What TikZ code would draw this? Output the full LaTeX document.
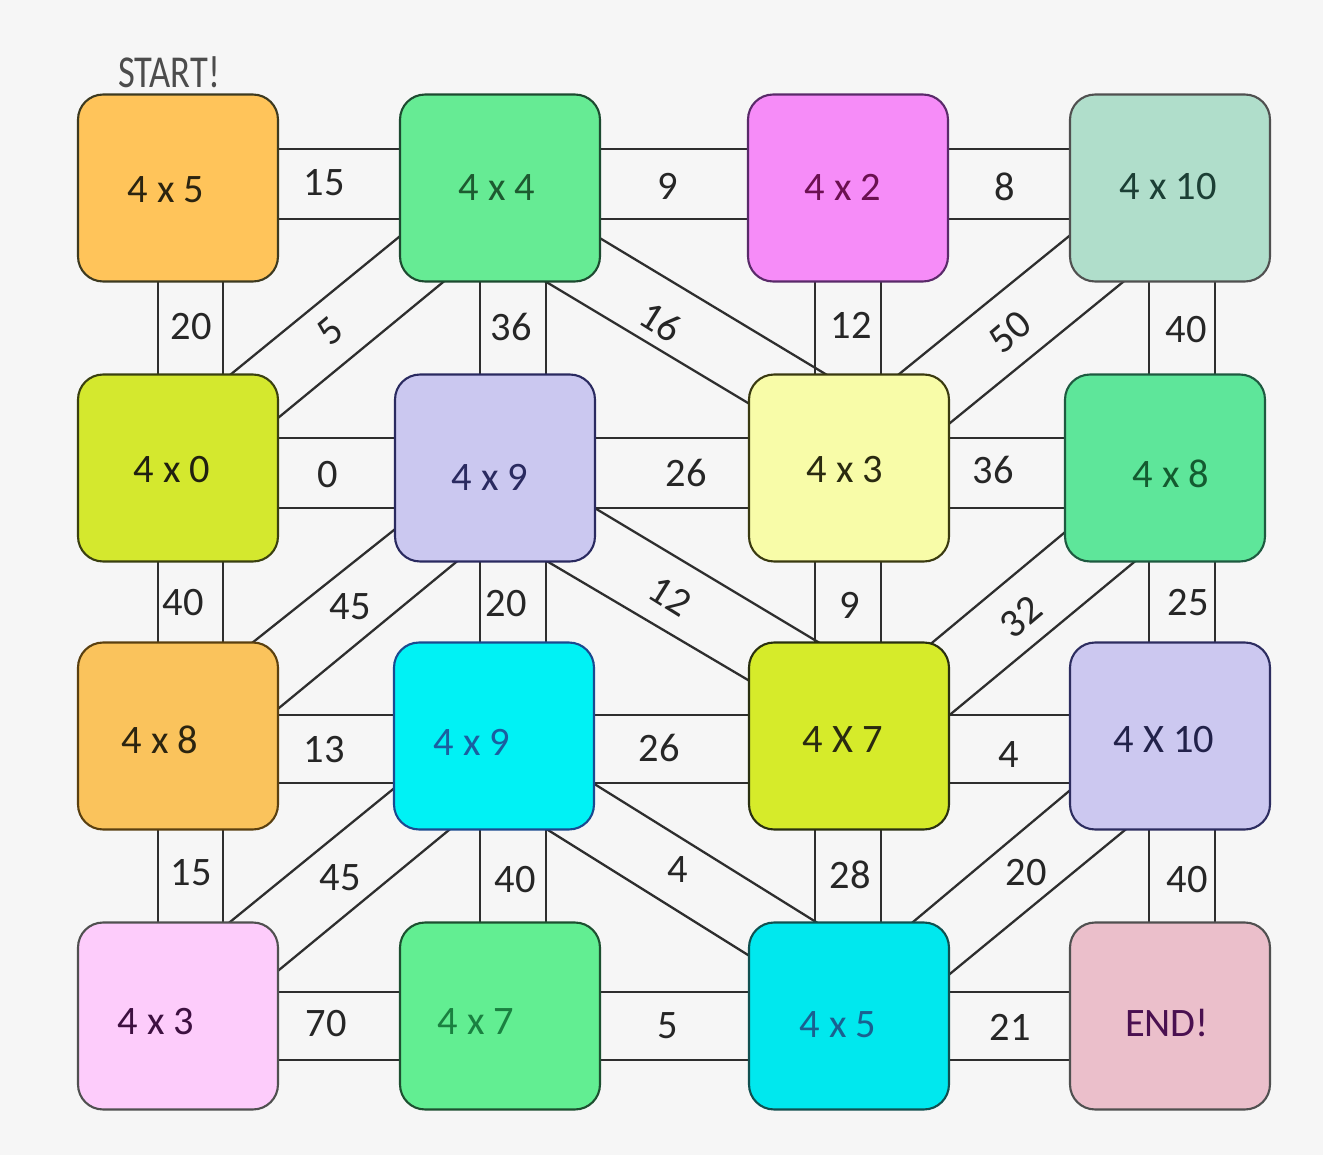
\documentclass[tikz,border=0pt]{standalone}
\usepackage{fontspec}
\setmainfont{Carlito}
\usetikzlibrary{calc}
\pgfdeclarelayer{back}
\pgfdeclarelayer{bg}
\pgfsetlayers{back,bg,main}
\definecolor{bgcol}{HTML}{F6F6F6}
\definecolor{linecol}{HTML}{2E2E2E}
\definecolor{fA1}{HTML}{FFC45A}\definecolor{dA1}{HTML}{3D3A20}\definecolor{tA1}{HTML}{2B2410}
\definecolor{fB1}{HTML}{66EB94}\definecolor{dB1}{HTML}{1D4A30}\definecolor{tB1}{HTML}{1D5A30}
\definecolor{fC1}{HTML}{F68CF8}\definecolor{dC1}{HTML}{5A2A6A}\definecolor{tC1}{HTML}{6A1050}
\definecolor{fD1}{HTML}{B0DECB}\definecolor{dD1}{HTML}{505050}\definecolor{tD1}{HTML}{1C3F35}
\definecolor{fA2}{HTML}{D4E82E}\definecolor{dA2}{HTML}{3A4010}\definecolor{tA2}{HTML}{202010}
\definecolor{fB2}{HTML}{CBC8F0}\definecolor{dB2}{HTML}{2A2A60}\definecolor{tB2}{HTML}{2A2A60}
\definecolor{fC2}{HTML}{F8FCA8}\definecolor{dC2}{HTML}{3A3A10}\definecolor{tC2}{HTML}{2A2A10}
\definecolor{fD2}{HTML}{5EE69A}\definecolor{dD2}{HTML}{1E5A40}\definecolor{tD2}{HTML}{145A30}
\definecolor{fA3}{HTML}{FAC35C}\definecolor{dA3}{HTML}{5A4010}\definecolor{tA3}{HTML}{2B2410}
\definecolor{fB3}{HTML}{00F2F5}\definecolor{dB3}{HTML}{1A4A90}\definecolor{tB3}{HTML}{1A5FA0}
\definecolor{fC3}{HTML}{D6EB2A}\definecolor{dC3}{HTML}{2A3010}\definecolor{tC3}{HTML}{2A2A10}
\definecolor{fD3}{HTML}{CCC8F0}\definecolor{dD3}{HTML}{2D2D60}\definecolor{tD3}{HTML}{22224A}
\definecolor{fA4}{HTML}{FDCCFB}\definecolor{dA4}{HTML}{505050}\definecolor{tA4}{HTML}{3D1040}
\definecolor{fB4}{HTML}{62EE92}\definecolor{dB4}{HTML}{1D5030}\definecolor{tB4}{HTML}{1A8040}
\definecolor{fC4}{HTML}{00E8EE}\definecolor{dC4}{HTML}{105050}\definecolor{tC4}{HTML}{1A6090}
\definecolor{fD4}{HTML}{EBBFCB}\definecolor{dD4}{HTML}{505050}\definecolor{tD4}{HTML}{4A1050}
\tikzset{
  box/.style={rounded corners=0.5cm, minimum width=4cm, minimum height=3.74cm,
    line width=1.2pt, inner sep=0pt},
  lbl/.style={font=\fontsize{23}{23}\selectfont, inner sep=0pt, text=black!85},
  band/.style={line width=1.3pt, draw=linecol, shorten <=-0.12cm, shorten >=-0.12cm},
}
\begin{document}
\begin{tikzpicture}[x=0.02cm,y=-0.02cm]
\useasboundingbox (0,0) rectangle (1323,1155);
\begin{pgfonlayer}{back}
\fill[bgcol] (0,0) rectangle (1323,1155);
\end{pgfonlayer}

% boxes
\node[box, fill=fA1, draw=dA1, label={[lbl, text=tA1, xshift=-0.24cm, yshift=-0.04cm]center:4 x 5}] (A1) at (178,188) {};
\node[box, fill=fB1, draw=dB1, label={[lbl, text=tB1, xshift=-0.06cm]center:4 x 4}] (B1) at (500,188) {};
\node[box, fill=fC1, draw=dC1, label={[lbl, text=tC1, xshift=-0.10cm, yshift=0.02cm]center:4 x 2}] (C1) at (848,188) {};
\node[box, fill=fD1, draw=dD1, label={[lbl, text=tD1, xshift=-0.04cm, yshift=0.02cm]center:4 x 10}] (D1) at (1170,188) {};

\node[box, fill=fA2, draw=dA2, label={[lbl, text=tA2, xshift=-0.12cm, yshift=-0.04cm]center:4 x 0}] (A2) at (178,468) {};
\node[box, fill=fB2, draw=dB2, label={[lbl, text=tB2, xshift=-0.10cm, yshift=-0.18cm]center:4 x 9}] (B2) at (495,468) {};
\node[box, fill=fC2, draw=dC2, label={[lbl, text=tC2, xshift=-0.08cm, yshift=-0.04cm]center:4 x 3}] (C2) at (849,468) {};
\node[box, fill=fD2, draw=dD2, label={[lbl, text=tD2, xshift=0.12cm, yshift=-0.12cm]center:4 x 8}] (D2) at (1165,468) {};

\node[box, fill=fA3, draw=dA3, label={[lbl, text=tA3, xshift=-0.36cm, yshift=-0.08cm]center:4 x 8}] (A3) at (178,736) {};
\node[box, fill=fB3, draw=dB3, label={[lbl, text=tB3, xshift=-0.44cm, yshift=-0.12cm]center:4 x 9}] (B3) at (494,736) {};
\node[box, fill=fC3, draw=dC3, label={[lbl, text=tC3, xshift=-0.12cm, yshift=-0.08cm]center:4 X 7}] (C3) at (849,736) {};
\node[box, fill=fD3, draw=dD3, label={[lbl, text=tD3, xshift=-0.12cm, yshift=-0.08cm]center:4 X 10}] (D3) at (1170,736) {};

\node[box, fill=fA4, draw=dA4, label={[lbl, text=tA4, xshift=-0.44cm, yshift=-0.12cm]center:4 x 3}] (A4) at (178,1016) {};
\node[box, fill=fB4, draw=dB4, label={[lbl, text=tB4, xshift=-0.48cm, yshift=-0.12cm]center:4 x 7}] (B4) at (500,1016) {};
\node[box, fill=fC4, draw=dC4, label={[lbl, text=tC4, xshift=-0.22cm, yshift=-0.18cm]center:4 x 5}] (C4) at (849,1016) {};
\node[box, fill=fD4, draw=dD4, label={[lbl, text=tD4, xshift=-0.06cm, yshift=-0.14cm]center:END!}] (D4) at (1170,1016) {};

\node[inner sep=0pt, text=black!70, font=\fontsize{26}{26}\selectfont] (start) at (169,72) {\scalebox{0.8}[1]{START!}};

\begin{pgfonlayer}{bg}
% horizontal bands
\foreach \a/\b in {A1/B1,B1/C1,C1/D1}{
  \draw[band] ($(\a)+(0,-39)$) -- ($(\b)+(0,-39)$);
  \draw[band] ($(\a)+(0,31)$) -- ($(\b)+(0,31)$);}
\foreach \a/\b in {A2/B2,B2/C2,C2/D2}{
  \draw[band] ($(\a)+(0,-30)$) -- ($(\b)+(0,-30)$);
  \draw[band] ($(\a)+(0,40)$) -- ($(\b)+(0,40)$);}
\foreach \a/\b in {A3/B3,B3/C3,C3/D3}{
  \draw[band] ($(\a)+(0,-21)$) -- ($(\b)+(0,-21)$);
  \draw[band] ($(\a)+(0,47)$) -- ($(\b)+(0,47)$);}
\foreach \a/\b in {A4/B4,B4/C4,C4/D4}{
  \draw[band] ($(\a)+(0,-24)$) -- ($(\b)+(0,-24)$);
  \draw[band] ($(\a)+(0,44)$) -- ($(\b)+(0,44)$);}
% vertical bands
\foreach \a/\b in {A1/A2,A2/A3,A3/A4}{
  \draw[band] ($(\a)+(-20,0)$) -- ($(\b)+(-20,0)$);
  \draw[band] ($(\a)+(45,0)$) -- ($(\b)+(45,0)$);}
\draw[band] ($(B1)+(-20,0)$) -- ($(B2)+(-15,0)$);
\draw[band] ($(B1)+(46,0)$) -- ($(B2)+(51,0)$);
\draw[band] ($(B2)+(-15,0)$) -- ($(B3)+(-14,0)$);
\draw[band] ($(B2)+(51,0)$) -- ($(B3)+(52,0)$);
\draw[band] ($(B3)+(-14,0)$) -- ($(B4)+(-20,0)$);
\draw[band] ($(B3)+(52,0)$) -- ($(B4)+(46,0)$);
\draw[band] ($(C1)+(-33,0)$) -- ($(C2)+(-34,0)$);
\draw[band] ($(C1)+(33,0)$) -- ($(C2)+(32,0)$);
\foreach \a/\b in {C2/C3,C3/C4}{
  \draw[band] ($(\a)+(-34,0)$) -- ($(\b)+(-34,0)$);
  \draw[band] ($(\a)+(32,0)$) -- ($(\b)+(32,0)$);}
\draw[band] ($(D1)+(-21,0)$) -- ($(D2)+(-16,0)$);
\draw[band] ($(D1)+(45,0)$) -- ($(D2)+(50,0)$);
\draw[band] ($(D2)+(-16,0)$) -- ($(D3)+(-21,0)$);
\draw[band] ($(D2)+(50,0)$) -- ($(D3)+(45,0)$);
\draw[band] ($(D3)+(-21,0)$) -- ($(D4)+(-21,0)$);
\draw[band] ($(D3)+(45,0)$) -- ($(D4)+(45,0)$);
% diagonal bands
\draw[band] ($(B1)+(-101,49)$) -- ($(A2)+(52,-93)$);
\draw[band] ($(B1)+(-58,95)$) -- ($(A2)+(100,-50)$);
\draw[band] ($(B1)+(103,52)$) -- ($(C2)+(-22,-93)$);
\draw[band] ($(B1)+(48,95)$) -- ($(C2)+(-101,-65)$);
\draw[band] ($(D1)+(-102,49)$) -- ($(C2)+(49,-93)$);
\draw[band] ($(D1)+(-47,94)$) -- ($(C2)+(101,-45)$);
\draw[band] ($(B2)+(-101,62)$) -- ($(A3)+(74,-93)$);
\draw[band] ($(B2)+(-40,95)$) -- ($(A3)+(101,-28)$);
\draw[band] ($(B2)+(103,42)$) -- ($(C3)+(-31,-94)$);
\draw[band] ($(B2)+(55,95)$) -- ($(C3)+(-101,-56)$);
\draw[band] ($(D2)+(-101,65)$) -- ($(C3)+(84,-94)$);
\draw[band] ($(D2)+(-32,95)$) -- ($(C3)+(103,-23)$);
\draw[band] ($(B3)+(-102,54)$) -- ($(A4)+(52,-94)$);
\draw[band] ($(B3)+(-45,94)$) -- ($(A4)+(101,-46)$);
\draw[band] ($(B3)+(102,49)$) -- ($(C4)+(-33,-94)$);
\draw[band] ($(B3)+(54,94)$) -- ($(C4)+(-101,-61)$);
\draw[band] ($(D3)+(-102,56)$) -- ($(C4)+(64,-94)$);
\draw[band] ($(D3)+(-45,94)$) -- ($(C4)+(102,-43)$);
\end{pgfonlayer}

% connector labels
\node[lbl] (h1) at (324,183) {15};
\node[lbl] (h2) at (668,186) {9};
\node[lbl] (h3) at (1005,187) {8};
\node[lbl] (h4) at (328,475) {0};
\node[lbl] (h5) at (686,473) {26};
\node[lbl] (h6) at (993,470) {36};
\node[lbl] (h7) at (324,750) {13};
\node[lbl] (h8) at (659,748) {26};
\node[lbl] (h9) at (1009,755) {4};
\node[lbl] (h10) at (326,1024) {70};
\node[lbl] (h11) at (668,1026) {5};
\node[lbl] (h12) at (1010,1027) {21};
\node[lbl] (v1) at (191,327) {20};
\node[lbl] (v2) at (511,327) {36};
\node[lbl] (v3) at (851,325) {12};
\node[lbl] (v4) at (1186,330) {40};
\node[lbl] (v5) at (183,603) {40};
\node[lbl] (v6) at (506,604) {20};
\node[lbl] (v7) at (850,605) {9};
\node[lbl] (v8) at (1188,603) {25};
\node[lbl] (v9) at (191,873) {15};
\node[lbl] (v10) at (515,880) {40};
\node[lbl] (v11) at (850,875) {28};
\node[lbl] (v12) at (1187,880) {40};
\node[lbl, rotate=40] (d1) at (330,331) {5};
\node[lbl, rotate=-32] (d2) at (661,322) {16};
\node[lbl, rotate=40] (d3) at (1010,332) {50};
\node[lbl] (d4) at (350,607) {45};
\node[lbl, rotate=-32] (d5) at (670,596) {12};
\node[lbl, rotate=40] (d6) at (1021,617) {32};
\node[lbl] (d7) at (340,878) {45};
\node[lbl] (d8) at (678,870) {4};
\node[lbl] (d9) at (1026,873) {20};
\end{tikzpicture}
\end{document}
